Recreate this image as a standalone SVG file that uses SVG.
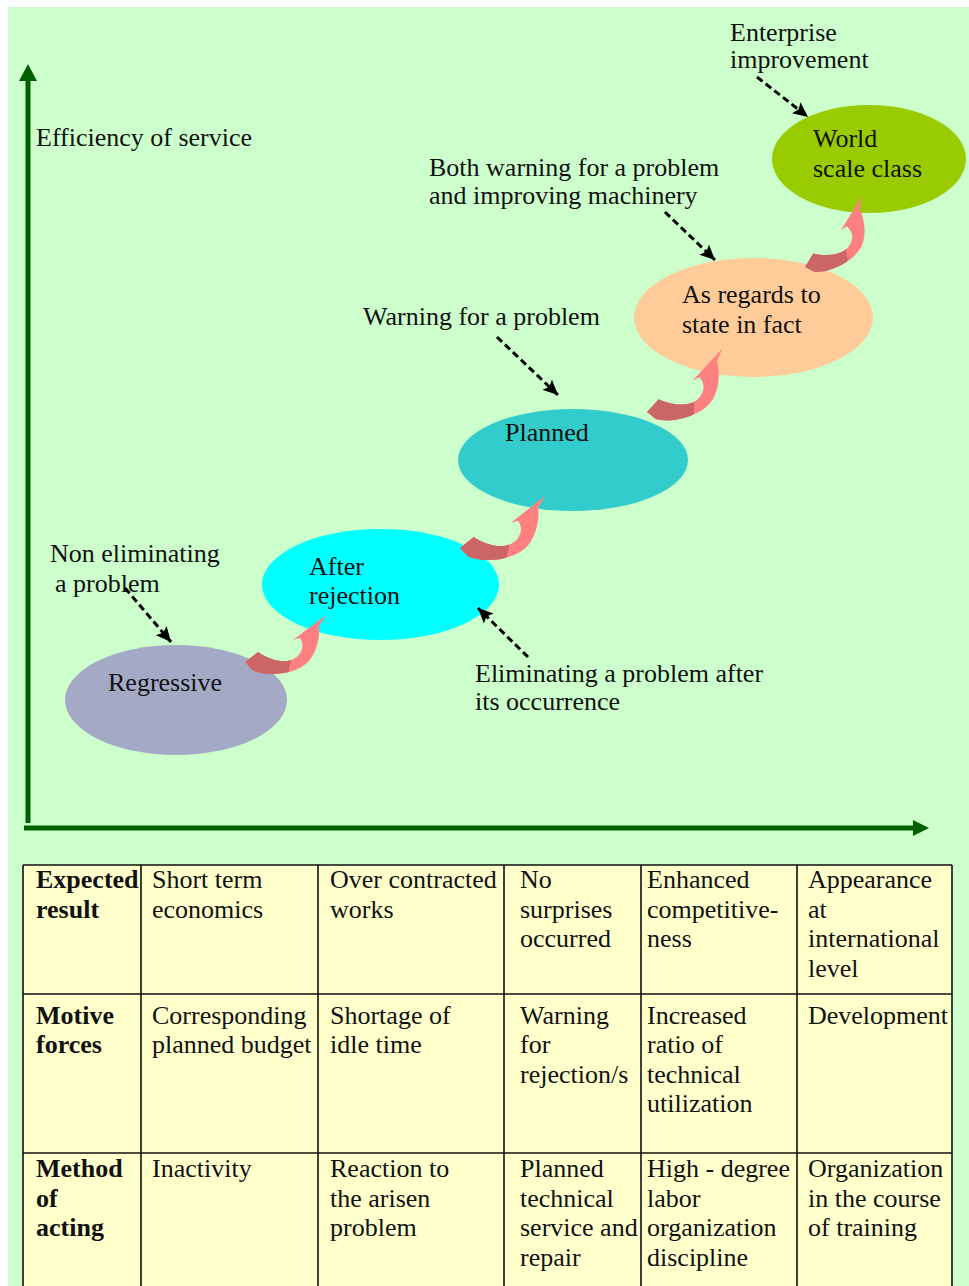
<svg xmlns="http://www.w3.org/2000/svg" width="969" height="1286" viewBox="0 0 969 1286">
<style>
text{font-family:"Liberation Serif","Times New Roman",serif;font-size:26px;fill:#111}
.b{font-weight:bold}
.dash{stroke:#000;stroke-width:3;stroke-dasharray:7,4;fill:none}
.axis{stroke:#006000;stroke-width:5;fill:none}
.grid{stroke:#111;stroke-width:1.6;fill:none}
.pink{fill:#FF8080}
.dark{fill:#CC6666}
</style>
<defs>
<marker id="ah" markerUnits="userSpaceOnUse" markerWidth="16" markerHeight="14" refX="15" refY="7" orient="auto">
<path d="M0,0 L15,7 L0,14 L3,7 Z" fill="#000"/>
</marker>
<path id="curl" d="M0,0 L13,-10 C22,-4 32,0 42,-1 C50,-2 55,-7 57,-13 C58,-17 57,-21 55,-24 L48,-22 L81,-47 L74,-36 C75,-25 72,-10 63,0 C55,8 42,12 27,12 C18,12 11,10 7,8 Z"/>
<clipPath id="tailclip"><path d="M-20,-30 L46,-30 L46,-1 L42,16 L-20,16 Z"/></clipPath>
<clipPath id="c4r3"><rect x="505" y="1153" width="135" height="140"/></clipPath>
</defs>
<rect x="0" y="0" width="969" height="1286" fill="#fff"/>
<rect x="8" y="7" width="961" height="1279" fill="#CCFFCC"/>

<g id="axes">
<line class="axis" x1="28" y1="823" x2="28" y2="78"/>
<path d="M19,81 L28,64 L37,81 Z" fill="#006000"/>
<line class="axis" x1="24" y1="828" x2="915" y2="828"/>
<path d="M913,820 L929,828 L913,836 Z" fill="#006000"/>
<text x="36" y="146">Efficiency of service</text>
</g>

<g id="node-regressive">
<ellipse cx="176" cy="700" rx="111" ry="55" fill="#A4AAC6"/>
<text x="108" y="691">Regressive</text>
</g>
<g id="node-after-rejection">
<ellipse cx="380.5" cy="584.5" rx="118.5" ry="55.5" fill="#00FFFF"/>
<text x="309" y="575">After</text>
<text x="309" y="604">rejection</text>
</g>
<g id="node-planned">
<ellipse cx="573" cy="460" rx="115" ry="51" fill="#33CCCC"/>
<text x="505" y="441">Planned</text>
</g>
<g id="node-as-regards">
<ellipse cx="753.5" cy="317.5" rx="119.5" ry="59.5" fill="#FFCC99"/>
<text x="682" y="303">As regards to</text>
<text x="682" y="333">state in fact</text>
</g>
<g id="node-world">
<ellipse cx="869" cy="159" rx="97" ry="54" fill="#99CC00"/>
<text x="813" y="147">World</text>
<text x="813" y="177">scale class</text>
</g>

<g id="labels">
<text x="730" y="41">Enterprise</text>
<text x="730" y="68">improvement</text>
<text x="429" y="176">Both warning for a problem</text>
<text x="429" y="204">and improving machinery</text>
<text x="363" y="325">Warning for a problem</text>
<text x="50" y="562">Non eliminating</text>
<text x="55" y="592">a problem</text>
<text x="475" y="682">Eliminating a problem after</text>
<text x="475" y="710">its occurrence</text>
</g>

<g id="connectors">
<line class="dash" x1="757" y1="77" x2="808" y2="117" marker-end="url(#ah)"/>
<line class="dash" x1="665" y1="212" x2="715" y2="260" marker-end="url(#ah)"/>
<line class="dash" x1="497" y1="337" x2="558" y2="395" marker-end="url(#ah)"/>
<line class="dash" x1="125" y1="588" x2="171" y2="642" marker-end="url(#ah)"/>
<line class="dash" x1="528" y1="657" x2="478" y2="608" marker-end="url(#ah)"/>
<g transform="translate(245,662)">
<use href="#curl" class="pink"/><use href="#curl" class="dark" clip-path="url(#tailclip)"/>
</g>
<g transform="translate(460,548) rotate(-1.5) scale(1.07)">
<use href="#curl" class="pink"/><use href="#curl" class="dark" clip-path="url(#tailclip)"/>
</g>
<g transform="translate(647,412) rotate(-10) scale(1.05)">
<use href="#curl" class="pink"/><use href="#curl" class="dark" clip-path="url(#tailclip)"/>
</g>
<g transform="translate(805,267) rotate(-21) scale(0.97)">
<use href="#curl" class="pink"/><use href="#curl" class="dark" clip-path="url(#tailclip)"/>
</g>
</g>

<g id="table">
<rect x="23" y="865" width="929" height="430" fill="#FFFFCC"/>
<path class="grid" d="M23,865 H952 M23,994 H952 M23,1153 H952 M23,865 V1290 M141,865 V1290 M318,865 V1290 M504,865 V1290 M641,865 V1290 M797,865 V1290 M952,865 V1290"/>
<text class="b" x="36" y="888">Expected</text>
<text class="b" x="36" y="918">result</text>
<text x="152" y="888">Short term</text>
<text x="152" y="918">economics</text>
<text x="330" y="888">Over contracted</text>
<text x="330" y="918">works</text>
<text x="520" y="888">No</text>
<text x="520" y="918">surprises</text>
<text x="520" y="947">occurred</text>
<text x="647" y="888">Enhanced</text>
<text x="647" y="918">competitive-</text>
<text x="647" y="947">ness</text>
<text x="808" y="888">Appearance</text>
<text x="808" y="918">at</text>
<text x="808" y="947">international</text>
<text x="808" y="977">level</text>

<text class="b" x="36" y="1024">Motive</text>
<text class="b" x="36" y="1053">forces</text>
<text x="152" y="1024">Corresponding</text>
<text x="152" y="1053">planned budget</text>
<text x="330" y="1024">Shortage of</text>
<text x="330" y="1053">idle time</text>
<text x="520" y="1024">Warning</text>
<text x="520" y="1053">for</text>
<text x="520" y="1083">rejection/s</text>
<text x="647" y="1024">Increased</text>
<text x="647" y="1053">ratio of</text>
<text x="647" y="1083">technical</text>
<text x="647" y="1112">utilization</text>
<text x="808" y="1024">Development</text>

<text class="b" x="36" y="1177">Method</text>
<text class="b" x="36" y="1207">of</text>
<text class="b" x="36" y="1236">acting</text>
<text x="152" y="1177">Inactivity</text>
<text x="330" y="1177">Reaction to</text>
<text x="330" y="1207">the arisen</text>
<text x="330" y="1236">problem</text>
<g clip-path="url(#c4r3)">
<text x="520" y="1177">Planned</text>
<text x="520" y="1207">technical</text>
<text x="520" y="1236">service and</text>
<text x="520" y="1266">repair</text>
</g>
<text x="647" y="1177">High - degree</text>
<text x="647" y="1207">labor</text>
<text x="647" y="1236">organization</text>
<text x="647" y="1266">discipline</text>
<text x="808" y="1177">Organization</text>
<text x="808" y="1207">in the course</text>
<text x="808" y="1236">of training</text>
</g>
</svg>
